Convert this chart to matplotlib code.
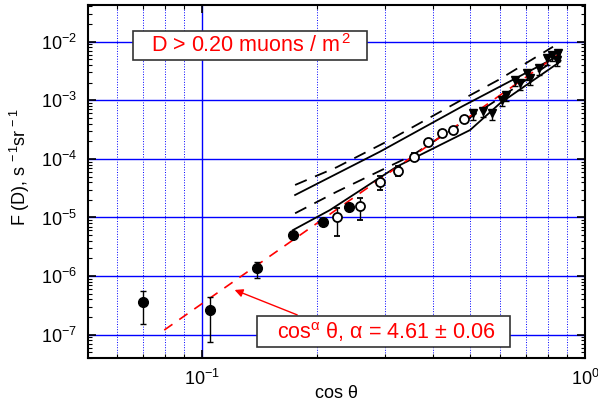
import matplotlib
matplotlib.use("Agg")
import matplotlib.pyplot as plt
import numpy as np
from matplotlib.ticker import NullFormatter, LogLocator
from matplotlib.patches import Rectangle

plt.rcParams["font.family"] = ["Liberation Sans", "DejaVu Sans"]
plt.rcParams["mathtext.fontset"] = "custom"
plt.rcParams["mathtext.rm"] = "Liberation Sans"
plt.rcParams["mathtext.it"] = "Liberation Sans:italic"
plt.rcParams["mathtext.bf"] = "Liberation Sans:bold"

# filled circles
fill_x = [0.0701, 0.1047, 0.139, 0.1728, 0.2074, 0.242]
fill_y = [3.66e-7, 2.64e-7, 1.36e-6, 5.0e-6, 8.3e-6, 1.49e-5]
fill_lo = [1.5e-7, 7.6e-8, 9.3e-7, 5.0e-6, 8.3e-6, 1.49e-5]
fill_hi = [5.6e-7, 4.46e-7, 1.76e-6, 5.0e-6, 8.3e-6, 1.49e-5]

# open circles
open_x = [0.2256, 0.2585, 0.2916, 0.3243, 0.3584, 0.3899, 0.4225, 0.453, 0.483]
open_y = [1.0e-5, 1.57e-5, 4.08e-5, 6.3e-5, 1.09e-4, 1.92e-4, 2.8e-4, 3.11e-4, 4.8e-4]
open_lo = [4.89e-6, 9.06e-6, 2.95e-5, 5.17e-5, 9.58e-5, 1.92e-4, 2.8e-4, 3.11e-4, 4.8e-4]
open_hi = [1.44e-5, 2.13e-5, 5.17e-5, 7.57e-5, 1.28e-4, 1.92e-4, 2.8e-4, 3.11e-4, 4.8e-4]

# down triangles
tri_x = [0.5087, 0.5427, 0.573, 0.606, 0.6205, 0.6565, 0.676, 0.704,
         0.7205, 0.760, 0.797, 0.8216, 0.8516, 0.8436]
tri_y = [6.0e-4, 6.6e-4, 6.0e-4, 1.01e-3, 1.23e-3, 2.22e-3, 1.95e-3, 2.89e-3,
         2.37e-3, 3.52e-3, 5.2e-3, 5.93e-3, 6.34e-3, 4.87e-3]

# model bands
up_dash_x = [0.175, 0.2247, 0.3034, 0.4867, 0.5937, 0.825]
up_dash_y = [3.59e-5, 7.2e-5, 1.97e-4, 1.1e-3, 2.22e-3, 8.2e-3]
up_solid_x = [0.175, 0.2916, 0.4783, 0.861]
up_solid_y = [2.42e-5, 1.33e-4, 7.9e-4, 5.93e-3]
lo_dash_x = [0.175, 0.2247, 0.3556, 0.60, 0.85]
lo_dash_y = [1.18e-5, 2.75e-5, 1.17e-4, 1.1e-3, 5.3e-3]
lo_solid_x = [0.1728, 0.2158, 0.3223, 0.5012, 0.60, 0.861]
lo_solid_y = [6.1e-6, 1.34e-5, 7.36e-5, 3.11e-4, 8.9e-4, 4.56e-3]

# fit line cos^alpha
fit_x = [0.0797, 0.85]
fit_y = [1.2e-7, 6.0e-3]

x_ticks = [0.1, 1.0]
y_ticks = [1e-7, 1e-6, 1e-5, 1e-4, 1e-3, 1e-2]

fig = plt.figure(figsize=(5.98, 4.07), dpi=100)
ax = fig.add_axes([0.1472, 0.1204, 0.8311, 0.8673])

ax.grid(which="major", axis="both", color="#0000ff", lw=1.0)
ax.grid(which="minor", axis="x", color="#0000ff", ls=":", lw=0.7)
ax.set_axisbelow(True)

ax.plot(fit_x, fit_y, color="red", ls=(0, (6, 5)), lw=1.2, zorder=3)
ax.plot(up_dash_x, up_dash_y, color="black", ls=(0, (7, 5)), lw=1.3)
ax.plot(lo_dash_x, lo_dash_y, color="black", ls=(0, (7, 5)), lw=1.3)
ax.plot(up_solid_x, up_solid_y, color="black", lw=1.3)
ax.plot(lo_solid_x, lo_solid_y, color="black", lw=1.3)

fy = np.array(fill_y)
ax.errorbar(fill_x, fill_y, yerr=[fy - np.array(fill_lo), np.array(fill_hi) - fy],
            fmt="o", color="black", ms=7, capsize=2.5, elinewidth=1, zorder=4)
oy = np.array(open_y)
ax.errorbar(open_x, open_y, yerr=[oy - np.array(open_lo), np.array(open_hi) - oy],
            fmt="o", color="black", mfc="white", mec="black", mew=1.3, ms=6.5,
            capsize=2.5, elinewidth=1, zorder=4)
ty = np.array(tri_y)
ax.errorbar(tri_x, tri_y, yerr=[ty * 0.22, ty * 0.05], fmt="v", color="black",
            ms=5.5, capsize=2.5, elinewidth=1, zorder=4)

ax.set_xscale("log")
ax.set_yscale("log")
ax.set_xlim(0.0504, 1.0)
ax.set_ylim(4.0e-8, 4.23e-2)

ax.set_xticks(x_ticks)
ax.set_yticks(y_ticks)
ax.xaxis.set_minor_formatter(NullFormatter())
ax.yaxis.set_minor_formatter(NullFormatter())
ax.yaxis.set_minor_locator(LogLocator(base=10, subs=np.arange(2, 10), numticks=12))
ax.tick_params(which="both", direction="in", top=True, right=True, labelsize=13)
ax.tick_params(which="major", length=6, width=1.2, pad=8)
ax.tick_params(which="minor", length=3, width=0.8)
for sp in ax.spines.values():
    sp.set_linewidth(1.5)

ax.set_xlabel("cos θ", fontsize=13, labelpad=-3)
ax.set_ylabel(r"F (D), s$^{\,-1}$sr$^{\,-1}$", fontsize=13)
ax.yaxis.set_label_coords(-0.113, 0.54)

# label boxes
ax.add_patch(Rectangle((0.0905, 0.844), 0.4709, 0.082, transform=ax.transAxes,
                       fc="white", ec="#333333", lw=1.2, zorder=5))
ax.text(0.328, 0.885, r"D > 0.20 muons / m$^{\,2}$", transform=ax.transAxes,
        color="red", fontsize=15.5, ha="center", va="center", zorder=6)
ax.add_patch(Rectangle((0.340, 0.031), 0.509, 0.088, transform=ax.transAxes,
                       fc="white", ec="#333333", lw=1.2, zorder=5))
ax.text(0.5996, 0.073, r"cos$^{\mathrm{\alpha}}$ θ, α = 4.61 ± 0.06", transform=ax.transAxes,
        color="red", fontsize=15.5, ha="center", va="center", zorder=6)

ax.annotate("", xy=(0.1198, 6.04e-7), xytext=(0.18, 2.09e-7),
            arrowprops=dict(arrowstyle="-|>", color="red", lw=1, mutation_scale=12))

fig.savefig("out.png", dpi=100)
